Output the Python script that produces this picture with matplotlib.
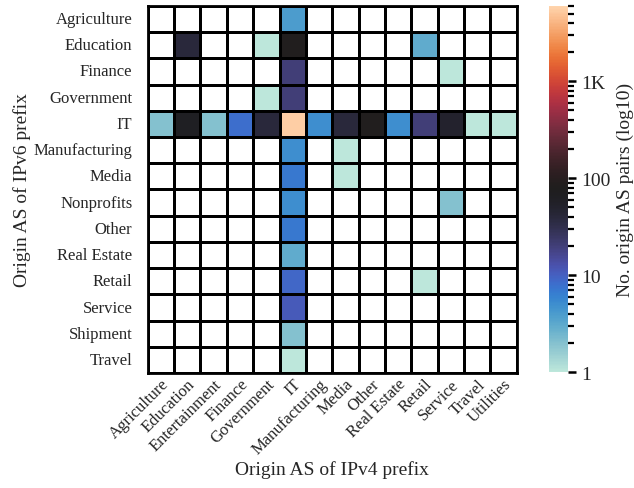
import matplotlib
matplotlib.use("Agg")
import matplotlib.pyplot as plt
import numpy as np
import pandas as pd
import seaborn as sns
from matplotlib.colors import LogNorm
from matplotlib.ticker import NullFormatter

# categories
v6_sectors = ['Agriculture', 'Education', 'Finance', 'Government', 'IT',
              'Manufacturing', 'Media', 'Nonprofits', 'Other', 'Real Estate',
              'Retail', 'Service', 'Shipment', 'Travel']
v4_sectors = ['Agriculture', 'Education', 'Entertainment', 'Finance',
              'Government', 'IT', 'Manufacturing', 'Media', 'Other',
              'Real Estate', 'Retail', 'Service', 'Travel', 'Utilities']

# counts of origin AS pairs (IPv6 row, IPv4 column); 0 = none
it_column = [4, 85, 20, 20, 5500, 5, 7, 5, 7, 3, 9, 11, 2, 1]
it_row = [2, 65, 2, 8, 40, 5500, 5, 40, 85, 5, 20, 50, 1, 1]
others = [
    ('Education', 'Education', 40),
    ('Education', 'Government', 1),
    ('Education', 'Retail', 3),
    ('Finance', 'Service', 1),
    ('Government', 'Government', 1),
    ('Manufacturing', 'Media', 1),
    ('Media', 'Media', 1),
    ('Nonprofits', 'Service', 2),
    ('Retail', 'Retail', 1),
]

df = pd.DataFrame(0.0, index=v6_sectors, columns=v4_sectors)
df['IT'] = it_column
df.loc['IT'] = it_row
for r, c, v in others:
    df.loc[r, c] = v

sns.set_theme(style='ticks')
plt.rcParams['font.family'] = ['Liberation Serif', 'DejaVu Serif']

fig = plt.figure(figsize=(6.34, 4.89), dpi=100)
ax = fig.add_axes([0.233, 0.235, 0.582, 0.751])
cax = fig.add_axes([0.866, 0.237, 0.030, 0.749])

cmap = sns.color_palette('icefire', as_cmap=True)
sns.heatmap(df, ax=ax, cbar_ax=cax, cmap=cmap, mask=(df == 0),
            norm=LogNorm(vmin=1, vmax=6000), linewidths=0.8, linecolor='black',
            cbar_kws={'label': 'No. origin AS pairs (log10)'})

for s in ax.spines.values():
    s.set_visible(True)
    s.set_color('black')
    s.set_linewidth(2)

ax.set_xlabel('Origin AS of IPv4 prefix', fontsize=14, labelpad=2)
ax.set_ylabel('Origin AS of IPv6 prefix', fontsize=14, labelpad=2)
ax.set_xticklabels(v4_sectors, rotation=45, ha='right', rotation_mode='anchor',
                   fontsize=12)
ax.set_yticklabels(v6_sectors, rotation=0, fontsize=12)
ax.tick_params(axis='y', length=0, pad=11)
ax.tick_params(axis='x', length=0, pad=2)

cb = ax.collections[0].colorbar
cb.outline.set_visible(False)
cb.set_ticks([1, 10, 100, 1000], labels=['1', '10', '100', '1K'])
minor_vals = [m * 10 ** e for e in range(4) for m in range(2, 10)
              if m * 10 ** e <= 6000]
cb.set_ticks(minor_vals, minor=True)
cb.ax.yaxis.set_minor_formatter(NullFormatter())
cb.ax.tick_params(labelsize=14, which='both')
cb.ax.tick_params(which='major', length=6, width=1.8, color='black')
cb.ax.tick_params(which='minor', length=4.5, width=1.6, color='black')
cb.set_label('No. origin AS pairs (log10)', fontsize=14)

fig.savefig('out.png', dpi=100, facecolor='white')
